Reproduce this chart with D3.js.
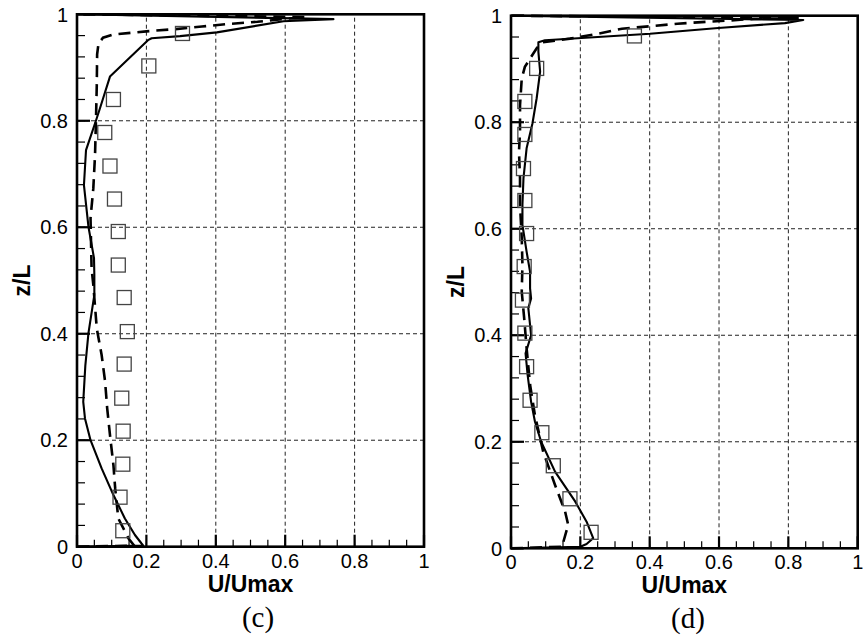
<!DOCTYPE html>
<html>
<head>
<meta charset="utf-8">
<script src="https://cdn.jsdelivr.net/npm/d3@7"></script>
<style>
  html, body { margin: 0; padding: 0; background: #fff; }
  svg { display: block; }
</style>
</head>
<body>
<svg id="chart" width="863" height="640"></svg>
<script>
// ---------- Data ----------
const xTicks = [0, 0.2, 0.4, 0.6, 0.8, 1];
const yTicks = [0, 0.2, 0.4, 0.6, 0.8, 1];
const xTickLabels = ["0", "0.2", "0.4", "0.6", "0.8", "1"];
const yTickLabels = ["0", "0.2", "0.4", "0.6", "0.8", "1"];

// Panel (c)
const cSolidZ = [0, 0.002, 0.006, 0.022, 0.053, 0.097, 0.147, 0.200, 0.241, 0.272, 0.340, 0.401, 0.473, 0.510, 0.542, 0.601, 0.679, 0.745, 0.801, 0.823, 0.883, 0.952, 0.955, 0.959, 0.966, 0.987, 0.991, 1.0];
const cSolidU = [0, 0.191, 0.186, 0.167, 0.138, 0.105, 0.071, 0.039, 0.023, 0.018, 0.024, 0.033, 0.050, 0.050, 0.049, 0.033, 0.020, 0.026, 0.055, 0.066, 0.095, 0.206, 0.215, 0.297, 0.403, 0.595, 0.739, 0];
const cDashZ = [0, 0.002, 0.016, 0.053, 0.110, 0.153, 0.210, 0.260, 0.310, 0.360, 0.410, 0.492, 0.523, 0.617, 0.673, 0.736, 0.810, 0.867, 0.925, 0.945, 0.956, 0.962, 0.968, 0.972, 0.977, 0.982, 0.986, 0.992, 0.995, 1.0];
const cDashU = [0, 0.165, 0.148, 0.119, 0.110, 0.105, 0.095, 0.087, 0.081, 0.071, 0.057, 0.047, 0.042, 0.039, 0.047, 0.052, 0.055, 0.057, 0.058, 0.062, 0.075, 0.105, 0.20, 0.28, 0.36, 0.44, 0.52, 0.61, 0.66, 0];
const cExpZ = [0.030, 0.093, 0.155, 0.217, 0.279, 0.343, 0.404, 0.468, 0.529, 0.592, 0.653, 0.715, 0.778, 0.840, 0.903, 0.964];
const cExpU = [0.132, 0.124, 0.132, 0.133, 0.129, 0.136, 0.145, 0.136, 0.119, 0.119, 0.108, 0.095, 0.080, 0.105, 0.207, 0.304];

// Panel (d)
const dSolidZ = [0, 0.003, 0.008, 0.019, 0.050, 0.088, 0.144, 0.200, 0.238, 0.275, 0.325, 0.366, 0.400, 0.451, 0.469, 0.488, 0.519, 0.557, 0.607, 0.645, 0.695, 0.751, 0.798, 0.845, 0.895, 0.932, 0.950, 0.954, 0.958, 0.966, 0.977, 0.986, 0.992, 1.0];
const dSolidU = [0, 0.200, 0.218, 0.237, 0.218, 0.185, 0.127, 0.087, 0.069, 0.058, 0.048, 0.042, 0.058, 0.050, 0.058, 0.055, 0.055, 0.045, 0.033, 0.033, 0.036, 0.045, 0.062, 0.074, 0.084, 0.079, 0.079, 0.098, 0.204, 0.401, 0.598, 0.790, 0.843, 0];
const dDashZ = [0, 0.003, 0.012, 0.044, 0.069, 0.119, 0.181, 0.250, 0.307, 0.376, 0.432, 0.482, 0.532, 0.582, 0.645, 0.695, 0.745, 0.782, 0.832, 0.882, 0.904, 0.939, 0.950, 0.957, 0.966, 0.9755, 0.9805, 0.985, 0.988, 0.991, 0.994, 0.996, 1.0];
const dDashU = [0, 0.150, 0.151, 0.165, 0.156, 0.127, 0.093, 0.069, 0.055, 0.045, 0.038, 0.031, 0.033, 0.031, 0.026, 0.026, 0.023, 0.026, 0.026, 0.031, 0.040, 0.074, 0.090, 0.170, 0.250, 0.320, 0.405, 0.480, 0.550, 0.630, 0.700, 0.830, 0];
const dExpZ = [0.030, 0.093, 0.155, 0.217, 0.278, 0.341, 0.404, 0.466, 0.529, 0.591, 0.653, 0.713, 0.777, 0.839, 0.901, 0.962];
const dExpU = [0.231, 0.170, 0.122, 0.089, 0.055, 0.045, 0.040, 0.033, 0.038, 0.045, 0.040, 0.036, 0.040, 0.040, 0.074, 0.356];

const xTitle = "U/Umax";
const yTitle = "z/L";

const panels = [
  { label: "(c)", x0: 77, x1: 424, y0: 546.7, y1: 14.3, labelX: 258,
    solidZ: cSolidZ, solidU: cSolidU, dashZ: cDashZ, dashU: cDashU, expZ: cExpZ, expU: cExpU },
  { label: "(d)", x0: 511, x1: 857.7, y0: 548.3, y1: 15.7, labelX: 688,
    solidZ: dSolidZ, solidU: dSolidU, dashZ: dDashZ, dashU: dDashU, expZ: dExpZ, expU: dExpU }
];

// ---------- Drawing ----------
const svg = d3.select("#chart");
const sans = "'Liberation Sans', Arial, sans-serif";

panels.forEach(p => {
  const x = d3.scaleLinear().domain([0, 1]).range([p.x0, p.x1]);
  const y = d3.scaleLinear().domain([0, 1]).range([p.y0, p.y1]);
  const g = svg.append("g");

  // grid
  g.append("g").selectAll("line").data(xTicks.slice(1, -1)).join("line")
    .attr("x1", d => x(d)).attr("x2", d => x(d))
    .attr("y1", y(0)).attr("y2", y(1))
    .attr("stroke", "#222").attr("stroke-width", 1).attr("stroke-dasharray", "4,3");
  g.append("g").selectAll("line").data(yTicks.slice(1, -1)).join("line")
    .attr("y1", d => y(d)).attr("y2", d => y(d))
    .attr("x1", x(0)).attr("x2", x(1))
    .attr("stroke", "#222").attr("stroke-width", 1).attr("stroke-dasharray", "4,3");

  // minor / major ticks (inward)
  const xMinor = d3.range(0, 1.0001, 0.05);
  const yMinor = d3.range(0, 1.0001, 0.04);
  g.append("g").selectAll("line").data(xMinor).join("line")
    .attr("x1", d => x(d)).attr("x2", d => x(d))
    .attr("y1", y(0)).attr("y2", y(0) - 7)
    .attr("stroke", "#000").attr("stroke-width", 1.2);
  g.append("g").selectAll("line").data(yMinor).join("line")
    .attr("y1", d => y(d)).attr("y2", d => y(d))
    .attr("x1", x(0)).attr("x2", x(0) + 8)
    .attr("stroke", "#000").attr("stroke-width", 1.2);
  g.append("g").selectAll("line").data(xTicks).join("line")
    .attr("x1", d => x(d)).attr("x2", d => x(d))
    .attr("y1", y(0)).attr("y2", y(0) - 12)
    .attr("stroke", "#000").attr("stroke-width", 2.2);
  g.append("g").selectAll("line").data(yTicks).join("line")
    .attr("y1", d => y(d)).attr("y2", d => y(d))
    .attr("x1", x(0)).attr("x2", x(0) + 13)
    .attr("stroke", "#000").attr("stroke-width", 2.2);

  // tick labels
  g.append("g").selectAll("text").data(xTicks).join("text")
    .attr("x", d => x(d)).attr("y", y(0) + 21)
    .attr("text-anchor", "middle")
    .attr("font-family", sans).attr("font-size", 20)
    .text((d, i) => xTickLabels[i]);
  g.append("g").selectAll("text").data(yTicks).join("text")
    .attr("x", x(0) - 9).attr("y", d => y(d))
    .attr("dy", "0.36em")
    .attr("text-anchor", "end")
    .attr("font-family", sans).attr("font-size", 20)
    .text((d, i) => yTickLabels[i]);

  // curves
  const line = d3.line().x(d => x(d[0])).y(d => y(d[1]));
  const solid = p.solidU.map((u, i) => [u, p.solidZ[i]]);
  const dash = p.dashU.map((u, i) => [u, p.dashZ[i]]);
  g.append("path").datum(dash).attr("d", line)
    .attr("fill", "none").attr("stroke", "#000").attr("stroke-width", 2.6)
    .attr("stroke-dasharray", "12,7");
  g.append("path").datum(solid).attr("d", line)
    .attr("fill", "none").attr("stroke", "#000").attr("stroke-width", 2.1)
    .attr("stroke-linejoin", "round");

  // experimental squares
  const s = 14;
  g.append("g").selectAll("rect").data(p.expU.map((u, i) => [u, p.expZ[i]])).join("rect")
    .attr("x", d => x(d[0]) - s / 2).attr("y", d => y(d[1]) - s / 2)
    .attr("width", s).attr("height", s)
    .attr("fill", "none").attr("stroke", "#444").attr("stroke-width", 1.3);

  // frame
  g.append("rect")
    .attr("x", x(0)).attr("y", y(1))
    .attr("width", x(1) - x(0)).attr("height", y(0) - y(1))
    .attr("fill", "none").attr("stroke", "#000").attr("stroke-width", 2.6);

  // axis titles
  g.append("text")
    .attr("x", (x(0) + x(1)) / 2).attr("y", y(0) + 45)
    .attr("text-anchor", "middle")
    .attr("font-family", sans).attr("font-weight", "bold").attr("font-size", 23)
    .text(xTitle);
  const cy = (y(0) + y(1)) / 2;
  const tx = x(0) - 47;
  g.append("text")
    .attr("transform", `translate(${tx},${cy}) rotate(-90)`)
    .attr("text-anchor", "middle")
    .attr("font-family", sans).attr("font-weight", "bold").attr("font-size", 23)
    .text(yTitle);

  // panel label
  g.append("text")
    .attr("x", p.labelX).attr("y", y(0) + 80)
    .attr("text-anchor", "middle")
    .attr("font-family", "'Liberation Serif', 'Times New Roman', serif").attr("font-size", 29)
    .text(p.label);
});
</script>
</body>
</html>
